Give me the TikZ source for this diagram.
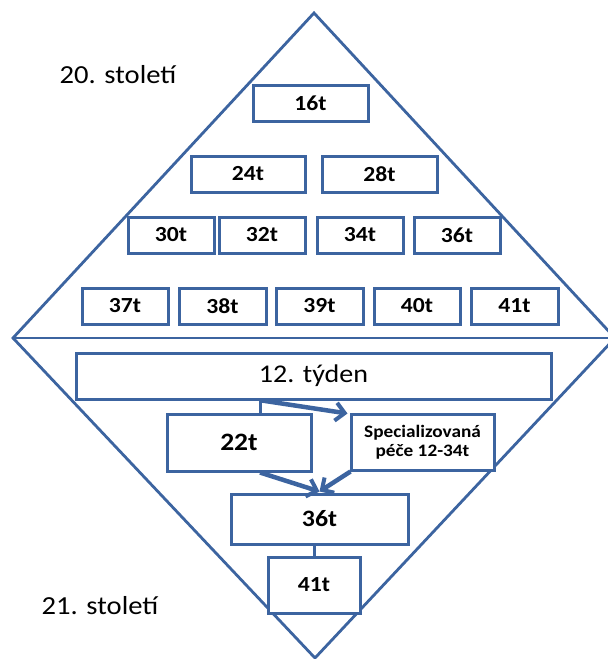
\documentclass[tikz,border=0pt]{standalone}
\usepackage{fontspec}
\setmainfont{Carlito}[FakeStretch=1.1]
\usetikzlibrary{arrows.meta}
\definecolor{bl}{RGB}{60,100,160}
\tikzset{
  box/.style={draw=bl, line width=3pt, fill=white, inner sep=0pt, align=center,
    font=\bfseries\fontsize{21.5}{24}\selectfont},
  frameline/.style={draw=bl, line width=2.8pt},
  flow/.style={draw=bl, line width=4.5pt, -{Straight Barb[length=9pt,width=18pt,line width=4pt]}},
  link/.style={draw=bl, line width=3pt},
  lbl/.style={font=\fontsize{26}{30}\selectfont, inner sep=0pt}
}
\begin{document}
\begin{tikzpicture}[x=1pt,y=-1pt]
\useasboundingbox (0,0) rectangle (608,659);
% diamond frame
\coordinate (T) at (314,13);
\coordinate (L) at (13,338);
\coordinate (B) at (315,658);
\coordinate (R) at (615,338);
\draw[frameline, line join=miter] (T) -- (L) -- (B) -- (R) -- cycle;
\draw[frameline] (L) -- (R);
% labels
\node[lbl] (c20) at (118,75) {20. století};
\node[lbl] (c21) at (100,606) {21. století};
% upper pyramid
\node[box, minimum width=115pt, minimum height=36pt] (a16) at (310.5,103) {16t};
\node[box, minimum width=114pt, minimum height=36pt] (a24) at (248,174) {24t};
\node[box, minimum width=115pt, minimum height=36pt] (a28) at (379.5,174) {28t};
\node[box, minimum width=86pt, minimum height=36pt] (a30) at (171,235) {30t};
\node[box, minimum width=86pt, minimum height=36pt] (a32) at (262,235) {32t};
\node[box, minimum width=86pt, minimum height=36pt] (a34) at (360,235) {34t};
\node[box, minimum width=86pt, minimum height=36pt] (a36) at (457,235) {36t};
\node[box, minimum width=86pt, minimum height=36pt] (a37) at (125,306) {37t};
\node[box, minimum width=87pt, minimum height=36pt] (a38) at (222.5,306) {38t};
\node[box, minimum width=87pt, minimum height=36pt] (a39) at (319.5,306) {39t};
\node[box, minimum width=86pt, minimum height=36pt] (a40) at (417,306) {40t};
\node[box, minimum width=87pt, minimum height=36pt] (a41) at (514.5,306) {41t};
% lower pyramid
\node[box, minimum width=475pt, minimum height=46pt, font=\fontsize{25.5}{30}\selectfont] (w12) at (313.5,376) {12. týden};
\node[box, minimum width=144pt, minimum height=57pt, font=\bfseries\fontsize{25}{28}\selectfont] (b22) at (239,442.5) {22t};
\node[box, minimum width=143pt, minimum height=56pt, font=\bfseries\fontsize{17.5}{19}\selectfont] (spec) at (422.5,442) {Specializovaná\\péče 12-34t};
\node[box, minimum width=177pt, minimum height=50pt, font=\bfseries\fontsize{23.5}{27}\selectfont] (b36) at (319.5,519) {36t};
\node[box, minimum width=92pt, minimum height=56pt] (b41) at (314,585) {41t};
% connectors
\coordinate (w12s) at ([xshift=-53.5pt]w12.south);
\coordinate (spectip) at ([xshift=-2pt,yshift=-1pt]spec.north west);
\draw[link] (w12s) -- (w12s |- b22.north);
\draw[flow] ([xshift=2pt]w12s) -- (spectip);
\coordinate (b22s) at ([xshift=21pt]b22.south);
\coordinate (b36n) at ([xshift=0pt,yshift=1pt]b36.north);
\draw[flow] (b22s) -- (b36n);
\draw[flow] ([xshift=1pt]spec.south west) -- (b36n);
\draw[link] (b36.south -| b41.north) -- (b41.north);
\end{tikzpicture}
\end{document}
